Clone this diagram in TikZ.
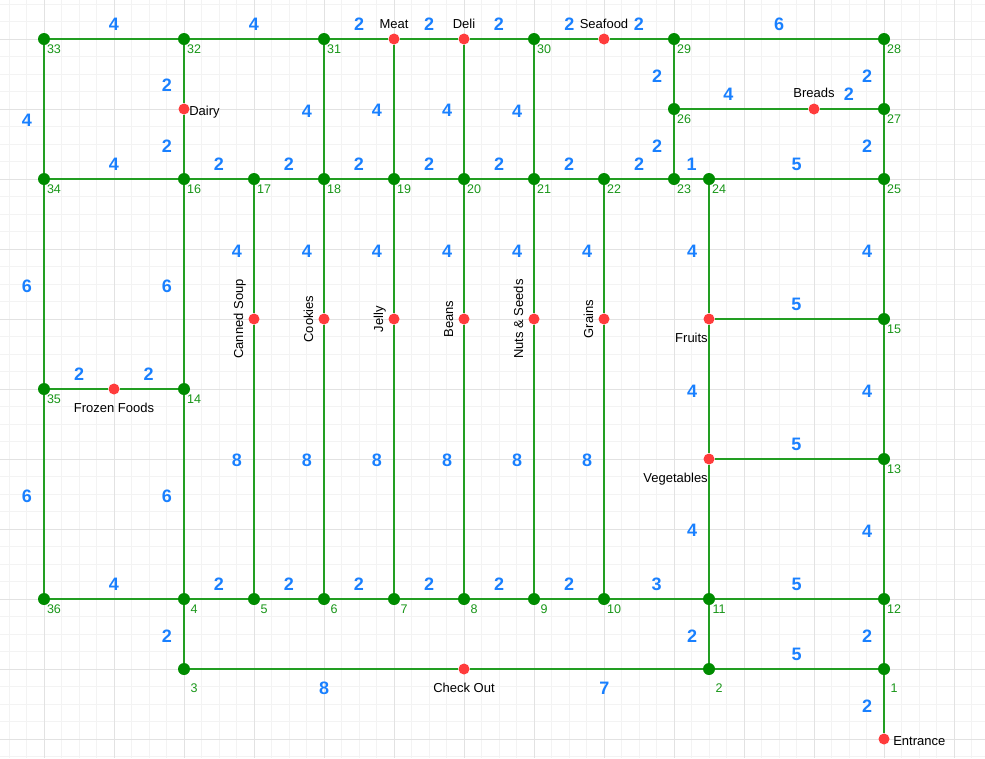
\documentclass[tikz,border=0pt]{standalone}
\usepackage{fontspec}
\setmainfont{Liberation Sans}
\definecolor{edgeg}{RGB}{34,158,34}
\definecolor{nodeg}{RGB}{0,140,0}
\definecolor{idg}{RGB}{25,150,25}
\definecolor{redn}{RGB}{255,60,60}
\definecolor{wblue}{RGB}{25,128,255}
\definecolor{majg}{RGB}{226,226,226}
\definecolor{ming}{RGB}{243,243,243}
\tikzset{
  gnode/.style={circle, fill=nodeg, inner sep=0pt, minimum size=9pt},
  rnode/.style={circle, fill=redn, inner sep=0pt, minimum size=8.25pt},
  edge/.style={draw=edgeg, line width=1.5pt},
  wl/.style={text=wblue, font=\bfseries\fontsize{13.5}{13.5}\selectfont, inner sep=0pt},
  hw/.style={wl, yshift=11.25pt},
  hwb/.style={wl, yshift=-14.6pt},
  vw/.style={wl, xshift=-12.75pt, yshift=-1.5pt},
  vwl/.style={wl, xshift=-12.75pt, yshift=-8.25pt},
  idl/.style={text=idg, font=\fontsize{9.4}{9.4}\selectfont, inner sep=0pt, anchor=base},
  tl/.style={text=black, font=\fontsize{9.75}{11.7}\selectfont, inner sep=0pt}
}
\begin{document}
\begin{tikzpicture}[x=0.75pt, y=-0.75pt]
\useasboundingbox (0,0) rectangle (985,758);
\fill[white] (0,0) rectangle (985,758);
\begin{scope}
\clip (0,0) rectangle (985,758);
\foreach \i in {-2,...,54} \draw[ming, line width=0.75pt] ({44+17.5*\i},0) -- ({44+17.5*\i},758);
\foreach \j in {-2,...,41} \draw[ming, line width=0.75pt] (0,{39+17.5*\j}) -- (985,{39+17.5*\j});
\foreach \i in {-1,...,13} \draw[majg, line width=0.75pt] ({44+70*\i},0) -- ({44+70*\i},758);
\foreach \j in {-1,...,10} \draw[majg, line width=0.75pt] (0,{39+70*\j}) -- (985,{39+70*\j});
\end{scope}

% green nodes
\foreach \n/\x/\y in {33/44/39, 32/184/39, 31/324/39, 30/534/39, 29/674/39, 28/884/39,
  26/674/109, 27/884/109,
  34/44/179, 16/184/179, 17/254/179, 18/324/179, 19/394/179, 20/464/179, 21/534/179, 22/604/179, 23/674/179, 24/709/179, 25/884/179,
  15/884/319, 35/44/389, 14/184/389, 13/884/459,
  36/44/599, 4/184/599, 5/254/599, 6/324/599, 7/394/599, 8/464/599, 9/534/599, 10/604/599, 11/709/599, 12/884/599,
  3/184/669, 2/709/669, 1/884/669}
  \node[gnode] (n\n) at (\x,\y) {};

% red nodes
\foreach \n/\x/\y in {meat/394/39, deli/464/39, seafood/604/39, dairy/184/109, breads/814/109,
  soup/254/319, cookies/324/319, jelly/394/319, beans/464/319, nuts/534/319, grains/604/319, fruits/709/319,
  frozen/114/389, veg/709/459, checkout/464/669, entrance/884/739}
  \node[rnode] (\n) at (\x,\y) {};

% node ids
\foreach \n in {33,32,31,30,29,28,26,27,34,16,17,18,19,20,21,22,23,24,25,15,35,14,13,36,4,5,6,7,8,9,10,11,12}
  \node[idl] (id\n) at ([shift={(10,14)}]n\n.center) {\n};
\foreach \n in {3,2,1}
  \node[idl] (id\n) at ([shift={(10,23)}]n\n.center) {\n};

% edges
\draw[edge] (n33) -- node[hw]{4} (n32) -- node[hw]{4} (n31) -- node[hw]{2} (meat) -- node[hw]{2} (deli)
  -- node[hw]{2} (n30) -- node[hw]{2} (seafood) -- node[hw]{2} (n29) -- node[hw]{6} (n28);
\draw[edge] (n26) -- node[hw, xshift=-12pt]{4} (breads) -- node[hw]{2} (n27);
\draw[edge] (n33) -- node[vwl]{4} (n34);
\draw[edge] (n32) -- node[vwl]{2} (dairy) -- node[vw]{2} (n16);
\draw[edge] (n31) -- node[vw]{4} (n18);
\draw[edge] (meat) -- node[vw]{4} (n19);
\draw[edge] (deli) -- node[vw]{4} (n20);
\draw[edge] (n30) -- node[vw]{4} (n21);
\draw[edge] (n29) -- node[vw]{2} (n26) -- node[vw]{2} (n23);
\draw[edge] (n28) -- node[vw]{2} (n27) -- node[vw]{2} (n25);
\draw[edge] (n34) -- node[hw]{4} (n16) -- node[hw]{2} (n17) -- node[hw]{2} (n18) -- node[hw]{2} (n19)
  -- node[hw]{2} (n20) -- node[hw]{2} (n21) -- node[hw]{2} (n22) -- node[hw]{2} (n23) -- node[hw]{1} (n24)
  -- node[hw]{5} (n25);
\draw[edge] (n34) -- node[vw]{6} (n35) -- node[vw]{6} (n36);
\draw[edge] (n16) -- node[vw]{6} (n14) -- node[vw]{6} (n4);
\draw[edge] (n17) -- node[vw]{4} (soup) -- node[vw]{8} (n5);
\draw[edge] (n18) -- node[vw]{4} (cookies) -- node[vw]{8} (n6);
\draw[edge] (n19) -- node[vw]{4} (jelly) -- node[vw]{8} (n7);
\draw[edge] (n20) -- node[vw]{4} (beans) -- node[vw]{8} (n8);
\draw[edge] (n21) -- node[vw]{4} (nuts) -- node[vw]{8} (n9);
\draw[edge] (n22) -- node[vw]{4} (grains) -- node[vw]{8} (n10);
\draw[edge] (n24) -- node[vw]{4} (fruits) -- node[vw]{4} (veg) -- node[vw]{4} (n11) -- node[vw]{2} (n2);
\draw[edge] (n25) -- node[vw]{4} (n15) -- node[vw]{4} (n13) -- node[vw]{4} (n12) -- node[vw]{2} (n1) -- node[vw]{2} (entrance);
\draw[edge] (n4) -- node[vw]{2} (n3);
\draw[edge] (fruits) -- node[hw]{5} (n15);
\draw[edge] (veg) -- node[hw]{5} (n13);
\draw[edge] (n35) -- node[hw]{2} (frozen) -- node[hw]{2} (n14);
\draw[edge] (n36) -- node[hw]{4} (n4) -- node[hw]{2} (n5) -- node[hw]{2} (n6) -- node[hw]{2} (n7)
  -- node[hw]{2} (n8) -- node[hw]{2} (n9) -- node[hw]{2} (n10) -- node[hw]{3} (n11) -- node[hw]{5} (n12);
\draw[edge] (n3) -- node[hwb]{8} (checkout) -- node[hwb, xshift=13.5pt]{7} (n2) -- node[hw]{5} (n1);

% place names
\node[tl, anchor=base] (tmeat) at ([shift={(0,-11)}]meat.center) {Meat};
\node[tl, anchor=base] (tdeli) at ([shift={(0,-11)}]deli.center) {Deli};
\node[tl, anchor=base] (tseafood) at ([shift={(0,-11)}]seafood.center) {Seafood};
\node[tl, anchor=base] (tbreads) at ([shift={(0,-12)}]breads.center) {Breads};
\node[tl, anchor=base west] (tdairy) at ([shift={(5,6)}]dairy.center) {Dairy};
\node[tl, anchor=base west] (tentrance) at ([shift={(9,6)}]entrance.center) {Entrance};
\node[tl, anchor=base, rotate=90] (tsoup) at ([shift={(-11,0)}]soup.center) {Canned Soup};
\node[tl, anchor=base, rotate=90] (tcookies) at ([shift={(-11,0)}]cookies.center) {Cookies};
\node[tl, anchor=base, rotate=90] (tjelly) at ([shift={(-11,0)}]jelly.center) {Jelly};
\node[tl, anchor=base, rotate=90] (tbeans) at ([shift={(-11,0)}]beans.center) {Beans};
\node[tl, anchor=base, rotate=90] (tnuts) at ([shift={(-11,0)}]nuts.center) {Nuts \& Seeds};
\node[tl, anchor=base, rotate=90] (tgrains) at ([shift={(-11,0)}]grains.center) {Grains};
\node[tl, anchor=base east] (tfruits) at ([shift={(-1,23)}]fruits.center) {Fruits};
\node[tl, anchor=base east] (tveg) at ([shift={(-1,23)}]veg.center) {Vegetables};
\node[tl, anchor=base] (tfrozen) at ([shift={(0,23)}]frozen.center) {Frozen Foods};
\node[tl, anchor=base] (tcheckout) at ([shift={(0,23)}]checkout.center) {Check Out};
\end{tikzpicture}
\end{document}
